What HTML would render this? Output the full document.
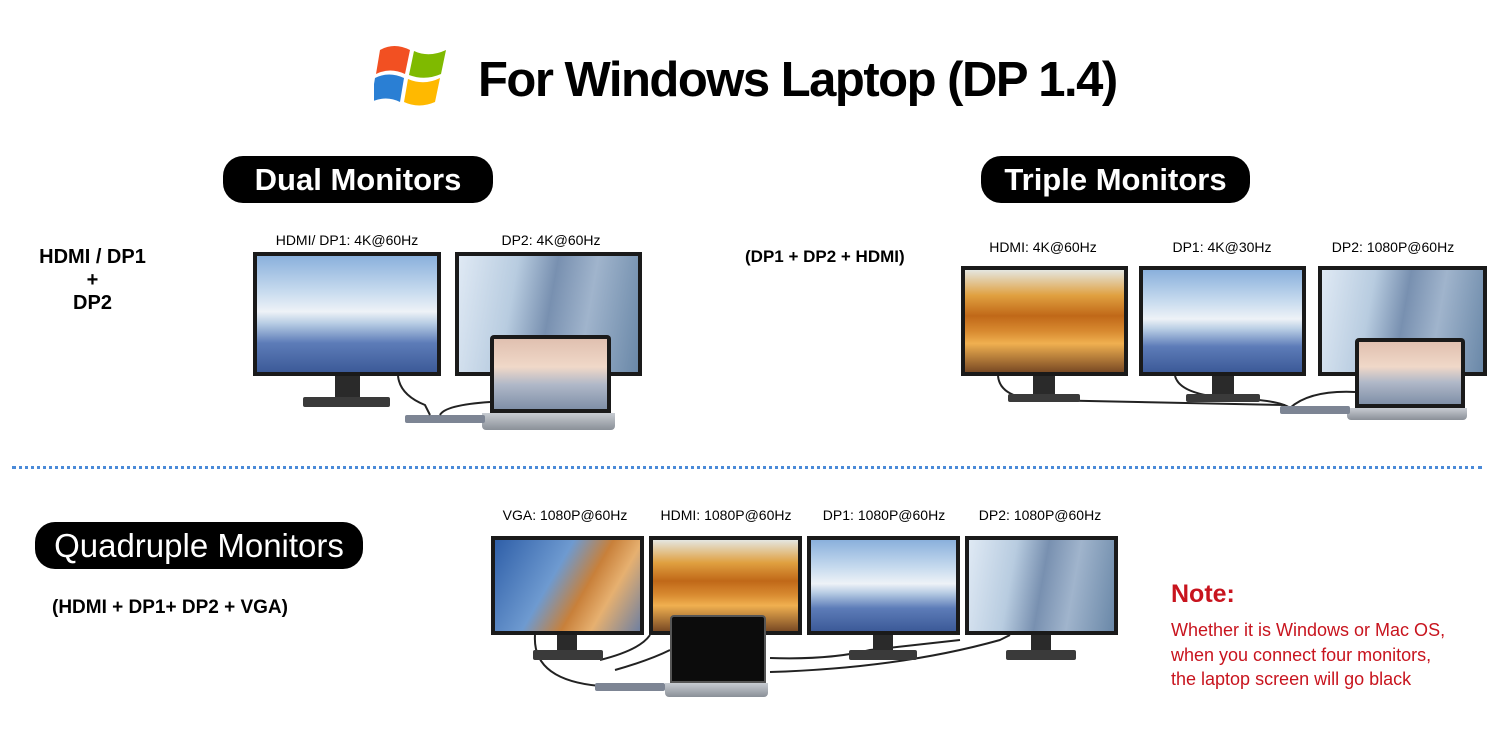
<!DOCTYPE html>
<html><head><meta charset="utf-8"><style>
*{margin:0;padding:0;box-sizing:border-box}
body{width:1500px;height:750px;background:#fff;position:relative;overflow:hidden;font-family:"Liberation Sans","DejaVu Sans",sans-serif;color:#000}
.a{position:absolute}
.pill{position:absolute;background:#000;color:#fff;border-radius:20px;font-weight:bold;font-size:31px;text-align:center;line-height:47px;height:47px}
.lbl{position:absolute;font-size:14px;text-align:center;white-space:nowrap;transform:translateX(-50%)}
.mon{position:absolute;background:#1a1a1a;padding:4px}
.mon div{width:100%;height:100%}
.snow{background:linear-gradient(180deg,#8ab0dc 0%,#c6daee 30%,#eef2f7 48%,#b8cde4 58%,#5d7cb8 75%,#3c5a98 100%)}
.fjord{background:linear-gradient(100deg,#dfe9f4 0%,#b8cce0 30%,#7890b0 50%,#a0b4cc 70%,#6a88a8 100%)}
.autumn{background:linear-gradient(180deg,#e4e6e0 0%,#e0a040 25%,#c06818 45%,#d88a30 60%,#f0b050 72%,#7a4a24 100%)}
.vga{background:linear-gradient(120deg,#2f5fa8 0%,#6e9ad0 40%,#c8803a 60%,#e6b070 75%,#7080a0 100%)}
.lap{background:linear-gradient(180deg,#e0c0b0 0%,#f0d8c8 40%,#b0b8c8 65%,#8090a8 100%)}
.neck{position:absolute;background:#2a2a2a}
.base{position:absolute;background:#3a3a3a;border-radius:2px}
.lbase{position:absolute;background:linear-gradient(#c8ccd2,#8a9098);border-radius:0 0 4px 4px}
.hub{position:absolute;background:#7d8594;border-radius:2px}
</style></head><body>
<svg class="a" style="left:374px;top:40px" width="78" height="70" viewBox="0 0 78 70">
<path d="M6 10 Q20 2 36 10 L31 34 Q16 27 2 34 Z" fill="#f25022"/>
<path d="M40 11 Q55 18 72 10 L67 34 Q51 41 35 35 Z" fill="#7fba00"/>
<path d="M1 38 Q15 31 30 38 L26 62 Q12 55 -3 62 Z" fill="#2a7fd4"/>
<path d="M34 39 Q50 46 66 38 L61 62 Q45 69 30 62 Z" fill="#ffb900"/>
</svg>
<div class="a" style="left:478px;top:52px;font-size:49px;font-weight:bold;letter-spacing:-1.5px;white-space:nowrap">For Windows Laptop (DP 1.4)</div>

<div class="pill" style="left:223px;top:156px;width:270px">Dual Monitors</div>
<div class="pill" style="left:981px;top:156px;width:269px">Triple Monitors</div>

<div class="a" style="left:30px;top:246px;width:125px;text-align:center;font-weight:bold;font-size:20px;line-height:23px">HDMI / DP1<br>+<br>DP2</div>

<div class="lbl" style="left:347px;top:232px">HDMI/ DP1: 4K@60Hz</div>
<div class="lbl" style="left:551px;top:232px">DP2: 4K@60Hz</div>
<div class="mon" style="left:253px;top:252px;width:188px;height:124px"><div class="snow"></div></div>
<div class="neck" style="left:335px;top:376px;width:25px;height:22px"></div>
<div class="base" style="left:303px;top:397px;width:87px;height:10px"></div>
<div class="mon" style="left:455px;top:252px;width:187px;height:124px"><div class="fjord"></div></div>
<div class="mon" style="left:490px;top:335px;width:121px;height:78px;border-radius:4px 4px 0 0"><div class="lap"></div></div>
<div class="lbase" style="left:482px;top:413px;width:133px;height:17px"></div>
<div class="hub" style="left:405px;top:415px;width:80px;height:8px"></div>
<svg class="a" style="left:0;top:0" width="1500" height="750" fill="none" stroke="#222" stroke-width="2">
<path d="M398 376 Q400 395 425 405 L430 415"/>
<path d="M440 415 Q445 405 490 402"/>
<path d="M998 376 Q1000 398 1040 400 L1285 405"/>
<path d="M1175 376 Q1180 395 1230 398 Q1280 400 1290 408"/>
<path d="M1290 408 Q1310 390 1355 392"/>
<path d="M535 635 Q532 680 600 686"/>
<path d="M600 660 Q640 650 650 635"/>
<path d="M615 670 Q650 660 670 650"/>
<path d="M770 658 Q830 660 870 650 L960 640"/>
<path d="M770 672 Q900 668 1000 640 L1010 635"/>
</svg>

<div class="a" style="left:745px;top:247px;font-weight:bold;font-size:17px">(DP1 + DP2 + HDMI)</div>
<div class="lbl" style="left:1043px;top:239px">HDMI: 4K@60Hz</div>
<div class="lbl" style="left:1222px;top:239px">DP1: 4K@30Hz</div>
<div class="lbl" style="left:1393px;top:239px">DP2: 1080P@60Hz</div>
<div class="mon" style="left:961px;top:266px;width:167px;height:110px"><div class="autumn"></div></div>
<div class="neck" style="left:1033px;top:376px;width:22px;height:20px"></div>
<div class="base" style="left:1008px;top:394px;width:72px;height:8px"></div>
<div class="mon" style="left:1139px;top:266px;width:167px;height:110px"><div class="snow"></div></div>
<div class="neck" style="left:1212px;top:376px;width:22px;height:20px"></div>
<div class="base" style="left:1186px;top:394px;width:74px;height:8px"></div>
<div class="mon" style="left:1318px;top:266px;width:169px;height:110px"><div class="fjord"></div></div>
<div class="mon" style="left:1355px;top:338px;width:110px;height:70px;border-radius:4px 4px 0 0"><div class="lap"></div></div>
<div class="lbase" style="left:1347px;top:408px;width:120px;height:12px"></div>
<div class="hub" style="left:1280px;top:406px;width:70px;height:8px"></div>

<div class="a" style="left:12px;top:466px;width:1470px;border-top:3px dotted #4a8ad8"></div>

<div class="pill" style="left:35px;top:522px;width:328px;font-weight:normal;font-size:33px">Quadruple Monitors</div>
<div class="a" style="left:52px;top:597px;font-weight:bold;font-size:19px">(HDMI + DP1+ DP2 + VGA)</div>

<div class="lbl" style="left:565px;top:507px">VGA: 1080P@60Hz</div>
<div class="lbl" style="left:726px;top:507px">HDMI: 1080P@60Hz</div>
<div class="lbl" style="left:884px;top:507px">DP1: 1080P@60Hz</div>
<div class="lbl" style="left:1040px;top:507px">DP2: 1080P@60Hz</div>
<div class="mon" style="left:491px;top:536px;width:153px;height:99px"><div class="vga"></div></div>
<div class="neck" style="left:557px;top:635px;width:20px;height:17px"></div>
<div class="base" style="left:533px;top:650px;width:70px;height:10px"></div>
<div class="mon" style="left:649px;top:536px;width:153px;height:99px"><div class="autumn"></div></div>
<div class="mon" style="left:807px;top:536px;width:153px;height:99px"><div class="snow"></div></div>
<div class="neck" style="left:873px;top:635px;width:20px;height:17px"></div>
<div class="base" style="left:849px;top:650px;width:68px;height:10px"></div>
<div class="mon" style="left:965px;top:536px;width:153px;height:99px"><div class="fjord"></div></div>
<div class="neck" style="left:1031px;top:635px;width:20px;height:17px"></div>
<div class="base" style="left:1006px;top:650px;width:70px;height:10px"></div>
<div class="a" style="left:670px;top:615px;width:96px;height:68px;background:#0c0c0c;border:2px solid #555;border-radius:4px 4px 0 0"></div>
<div class="lbase" style="left:665px;top:683px;width:103px;height:14px"></div>
<div class="hub" style="left:595px;top:683px;width:70px;height:8px"></div>

<div class="a" style="left:1171px;top:580px;color:#c8141e;font-weight:bold;font-size:25px">Note:</div>
<div class="a" style="left:1171px;top:618px;color:#c8141e;font-size:18px;line-height:24.5px;white-space:nowrap">Whether it is Windows or Mac OS,<br>when you connect four monitors,<br>the laptop screen will go black</div>
</body></html>
